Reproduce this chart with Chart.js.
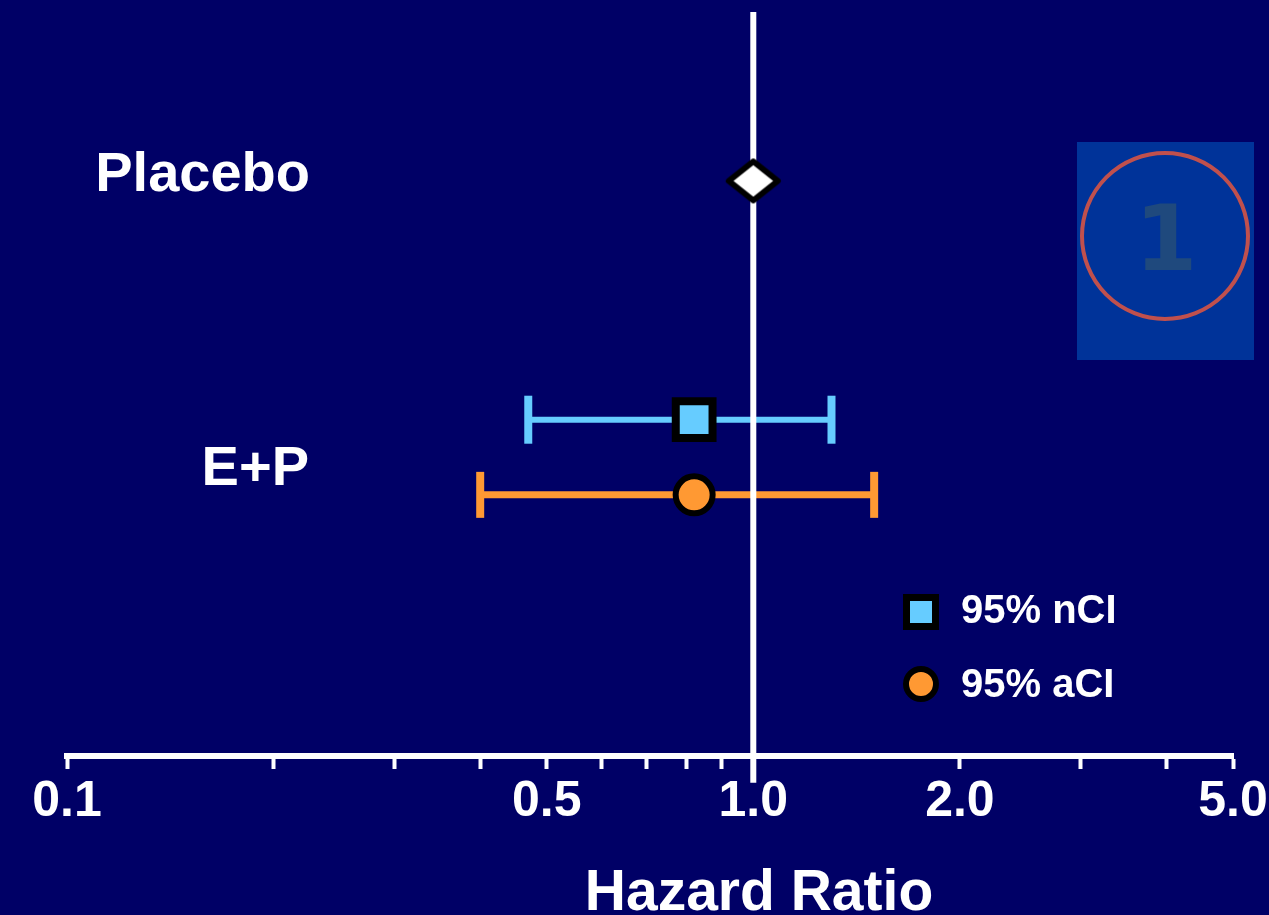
<!DOCTYPE html>
<html>
<head>
<meta charset="utf-8">
<title>Hazard Ratio</title>
<script src="https://cdn.jsdelivr.net/npm/chart.js@4.4.1/dist/chart.umd.min.js"></script>
<style>
  html, body { margin: 0; padding: 0; background: #000066; overflow: hidden; }
  canvas { display: block; }
</style>
</head>
<body>
<canvas id="forest" width="1269" height="915"></canvas>
<script>
// ---- data ----
const rowLabels = ['Placebo', 'E+P'];
const placeboHR = [1.0];
const seriesNames = ['95% nCI', '95% aCI'];
const pointHR = [0.82, 0.82];
const ciLower = [0.47, 0.40];
const ciUpper = [1.30, 1.50];
const tickValues = [0.1, 0.2, 0.3, 0.4, 0.5, 0.6, 0.7, 0.8, 0.9, 1.0, 2.0, 3.0, 4.0, 5.0];
const labeledValues = [0.1, 0.5, 1.0, 2.0, 5.0];
const tickLabels = ['0.1', '0.5', '1.0', '2.0', '5.0'];
const axisTitle = 'Hazard Ratio';
const badgeText = '1';

// ---- layout / style ----
const ROW = { placebo: 7.73, placeboLabel: 7.59, nCI: 4.52, aCI: 3.51, epLabel: 3.64 };
const Y_MIN = 0, Y_MAX = 10, REF_BOTTOM = -0.36;
const FONT = '"Liberation Sans", Arial, Helvetica, sans-serif';
const C = {
  bg: '#000066', white: '#ffffff', black: '#000000',
  blue: '#66ccff', orange: '#ff9933',
  badge: '#003399', ring: '#c0504d', badgeText: '#1f497d'
};
const seriesColors = [C.blue, C.orange];
const seriesRows = [ROW.nCI, ROW.aCI];

// white diamond with black outline, slightly wider than tall
function makeDiamond(w, h, lw) {
  const pad = 2;
  const cv = document.createElement('canvas');
  cv.width = w + pad * 2; cv.height = h + pad * 2;
  const g = cv.getContext('2d');
  const cx = cv.width / 2, cy = cv.height / 2;
  const hw = w / 2 - lw / 2, hh = h / 2 - lw / 2;
  g.beginPath();
  g.moveTo(cx, cy - hh); g.lineTo(cx + hw, cy); g.lineTo(cx, cy + hh); g.lineTo(cx - hw, cy);
  g.closePath();
  g.fillStyle = C.white; g.fill();
  g.lineJoin = 'round'; g.lineWidth = lw; g.strokeStyle = C.black; g.stroke();
  return cv;
}
const diamond = makeDiamond(55, 45, 6);

const datasets = [
  {
    type: 'scatter', label: rowLabels[0], order: 0,
    data: [{ x: placeboHR[0], y: ROW.placebo }],
    pointStyle: diamond, pointRadius: 24
  },
  {
    type: 'scatter', label: seriesNames[0], order: 0,
    data: [{ x: pointHR[0], y: seriesRows[0] }],
    pointStyle: 'rect', pointRadius: 26, pointBorderWidth: 8,
    pointBackgroundColor: C.blue, pointBorderColor: C.black
  },
  {
    type: 'scatter', label: seriesNames[1], order: 0,
    data: [{ x: pointHR[1], y: seriesRows[1] }],
    pointStyle: 'circle', pointRadius: 18.5, pointBorderWidth: 6,
    pointBackgroundColor: C.orange, pointBorderColor: C.black
  },
  {
    type: 'line', label: 'HR = 1', order: 1, clip: false,
    data: [{ x: 1.0, y: Y_MAX }, { x: 1.0, y: REF_BOTTOM }],
    borderColor: C.white, borderWidth: 6, pointRadius: 0, showLine: true
  }
];
seriesNames.forEach((name, i) => {
  datasets.push({
    type: 'line', label: name + ' interval', order: 2, showLine: true,
    data: [{ x: ciLower[i], y: seriesRows[i] }, { x: ciUpper[i], y: seriesRows[i] }],
    borderColor: seriesColors[i], borderWidth: i === 0 ? 6 : 7,
    pointStyle: 'line', pointRotation: 90, pointRadius: i === 0 ? 24 : 23,
    pointBorderWidth: 8, pointBorderColor: seriesColors[i], pointBackgroundColor: seriesColors[i]
  });
});

// background, badge, row labels, legend and axis title
const decorations = {
  id: 'decorations',
  beforeDraw(chart) {
    const ctx = chart.ctx;
    ctx.save();
    ctx.fillStyle = C.bg;
    ctx.fillRect(0, 0, chart.width, chart.height);
    ctx.restore();
  },
  afterDraw(chart) {
    const ctx = chart.ctx;
    const y = chart.scales.y;
    ctx.save();

    // row labels
    ctx.fillStyle = C.white;
    ctx.font = 'bold 56px ' + FONT;
    ctx.textAlign = 'right';
    ctx.textBaseline = 'alphabetic';
    ctx.fillText(rowLabels[0], 310, y.getPixelForValue(ROW.placeboLabel));
    ctx.fillText(rowLabels[1], 309, y.getPixelForValue(ROW.epLabel));

    // axis title
    ctx.font = 'bold 57px ' + FONT;
    ctx.textAlign = 'center';
    ctx.fillText(axisTitle, 759, 910);

    // legend
    const lx = 921;
    const ly = [612, 684];
    ctx.fillStyle = C.blue; ctx.strokeStyle = C.black; ctx.lineWidth = 7;
    ctx.beginPath(); ctx.rect(lx - 14.5, ly[0] - 14.5, 29, 29); ctx.fill(); ctx.stroke();
    ctx.fillStyle = C.orange; ctx.lineWidth = 6;
    ctx.beginPath(); ctx.arc(lx, ly[1], 15, 0, Math.PI * 2); ctx.fill(); ctx.stroke();
    ctx.fillStyle = C.white;
    ctx.font = 'bold 40px ' + FONT;
    ctx.textAlign = 'left';
    ctx.fillText(seriesNames[0], 961, 623);
    ctx.fillText(seriesNames[1], 961, 697);

    // numbered badge
    ctx.fillStyle = C.badge;
    ctx.fillRect(1077, 142, 177, 218);
    ctx.strokeStyle = C.ring; ctx.lineWidth = 4;
    ctx.beginPath(); ctx.arc(1165, 236, 83, 0, Math.PI * 2); ctx.stroke();
    ctx.fillStyle = C.badgeText;
    ctx.font = 'bold 90px "DejaVu Sans", ' + FONT;
    ctx.textAlign = 'center';
    ctx.fillText(badgeText, 1166, 270);

    ctx.restore();
  }
};

new Chart(document.getElementById('forest'), {
  type: 'scatter',
  data: { datasets },
  plugins: [decorations],
  options: {
    responsive: false,
    devicePixelRatio: 1,
    animation: false,
    events: [],
    layout: { autoPadding: false, padding: { left: 67, right: 36, top: 12, bottom: 80 } },
    plugins: { legend: { display: false }, tooltip: { enabled: false } },
    scales: {
      x: {
        type: 'logarithmic',
        position: 'bottom',
        min: 0.1,
        max: 5.0,
        afterBuildTicks(scale) {
          scale.ticks = tickValues.map(v => ({ value: v }));
        },
        // end labels are allowed to run to the canvas edge
        afterFit(scale) {
          scale.paddingLeft = 0;
          scale.paddingRight = 0;
        },
        grid: {
          drawOnChartArea: false, drawTicks: true,
          tickLength: 13, tickWidth: 4, tickColor: C.white, color: C.white
        },
        border: { display: true, color: C.white, width: 6 },
        ticks: {
          color: C.white,
          font: { family: FONT, size: 50, weight: 'bold' },
          padding: 3,
          autoSkip: false,
          maxRotation: 0,
          callback(value) {
            const i = labeledValues.findIndex(v => Math.abs(v - value) < 1e-9);
            return i >= 0 ? tickLabels[i] : '';
          }
        }
      },
      y: { type: 'linear', display: false, min: Y_MIN, max: Y_MAX }
    }
  }
});
</script>
</body>
</html>
